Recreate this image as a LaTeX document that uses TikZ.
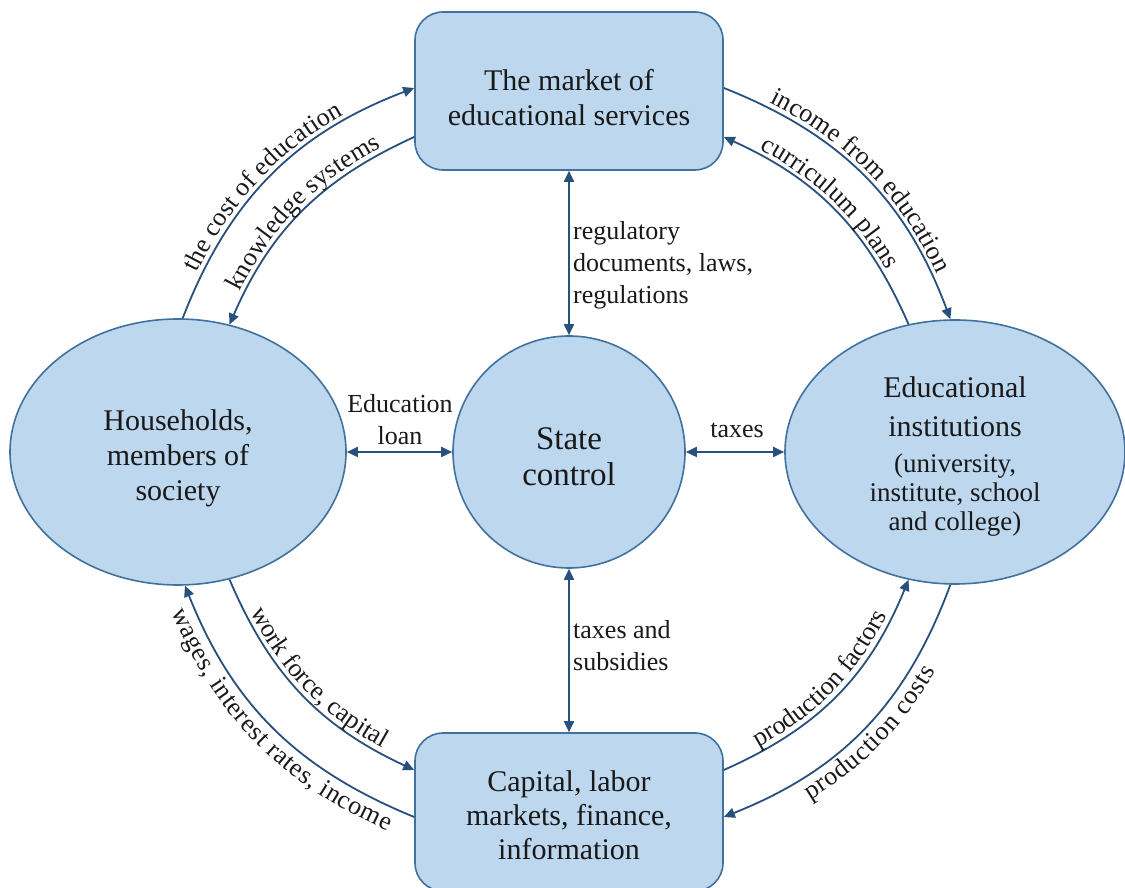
\documentclass[tikz,border=0pt]{standalone}
\usepackage{fontspec}
\setmainfont{Liberation Serif}
\usetikzlibrary{shapes.geometric,arrows.meta,decorations.text}
\definecolor{boxfill}{RGB}{189,215,238}
\definecolor{boxline}{RGB}{65,113,156}
\definecolor{arrowc}{RGB}{40,80,125}
\definecolor{txt}{RGB}{25,25,25}
\newcommand\myfs[2]{\fontsize{#1}{#2}\selectfont}
\newcommand\curvfont{\fontsize{26}{32}\selectfont}
\begin{document}
\begin{tikzpicture}[x=1pt,y=1pt,
  blockbox/.style={draw=boxline, fill=boxfill, line width=1.6pt, rounded corners=28pt,
    minimum width=308pt, minimum height=158pt, inner sep=0pt, align=center,
    text=txt, font=\myfs{30}{35}},
  ellnode/.style={ellipse, draw=boxline, fill=boxfill, line width=1.6pt, inner sep=0pt,
    align=center, text=txt},
  conn/.style={draw=arrowc, line width=1.8pt, -{Triangle[length=11pt,width=10pt]}},
  dconn/.style={draw=arrowc, line width=1.8pt,
    {Triangle[length=11pt,width=10pt]}-{Triangle[length=11pt,width=10pt]}},
  lbl/.style={font=\myfs{26}{32}, inner sep=0pt, text=txt},
  curvlbl/.style={decorate, decoration={text along path, text align=center,
    raise=5pt, text color=txt, text={|\curvfont|#1}}},
  curvlblout/.style={decorate, decoration={text along path, text align=center,
    raise=-23pt, text color=txt, text={|\curvfont|#1}}}
]
\useasboundingbox (0,0) rectangle (1125,888);

% nodes
\node[blockbox] (mkt) at (569,797) {\rule{0pt}{35pt}The market of\\educational services};
\node[blockbox, font=\myfs{30}{34}] (cap) at (569,76) {\rule{0pt}{27pt}Capital, labor\\markets, finance,\\information};
\node[ellnode, minimum width=336pt, minimum height=266pt, font=\myfs{30}{35}] (hh) at (178,436)
  {\rule{0pt}{33pt}Households,\\members of\\society};
\node[circle, draw=boxline, fill=boxfill, line width=1.6pt, minimum size=232pt, inner sep=0pt,
  align=center, text=txt, font=\myfs{33}{36}] (sc) at (569,436) {\rule{0pt}{31pt}State\\control};
\node[ellnode, minimum width=340pt, minimum height=264pt, font=\myfs{30}{36}] (ei) at (955,436)
  {\rule{0pt}{29pt}Educational\\[3pt]institutions\\\myfs{27}{29}(university,\\[-7pt]\myfs{27}{29}institute, school\\[-7pt]\myfs{27}{29}and college)};

% straight connectors
\draw[dconn] (mkt.south) -- (sc.north);
\draw[dconn] (sc.south) -- (cap.north);
\draw[dconn] (hh.east) -- (sc.west);
\draw[dconn] (sc.east) -- (ei.west);

% straight labels
\node[lbl, anchor=west, align=left] (lreg) at (573,623) {regulatory\\documents, laws,\\regulations};
\node[lbl, align=center] (lloan) at (400,468) {Education\\loan};
\node[lbl] (ltax) at (737,458) {taxes};
\node[lbl, anchor=west, align=left] (lsub) at (573,242) {taxes and\\subsidies};

% curved connectors: top left
\draw[conn] (hh.88) to[bend left=24] ([yshift=3pt]mkt.west);
\path[curvlbl={the cost of education}, decoration={text align={center, right indent=28pt}}]
  (hh.88) to[bend left=24] ([yshift=3pt]mkt.west);
\draw[conn] ([yshift=-46pt]mkt.west) to[bend right=21] (hh.68);
\path[curvlbl={knowledge systems}] (hh.68) to[bend left=21] ([yshift=-46pt]mkt.west);

% top right
\draw[conn] ([yshift=3pt]mkt.east) to[bend left=24] (ei.92);
\path[curvlbl={income from education}] ([yshift=3pt]mkt.east) to[bend left=24] (ei.92);
\draw[conn] (ei.110) to[bend right=21] ([yshift=-46pt]mkt.east);
\path[curvlbl={curriculum plans}, decoration={text align={center, right indent=20pt}}]
  ([yshift=-46pt]mkt.east) to[bend left=21] (ei.110);

% bottom left
\draw[conn] (hh.-68) to[bend right=21] ([yshift=42pt]cap.west);
\path[curvlbl={work force, capital}] (hh.-68) to[bend right=21] ([yshift=42pt]cap.west);
\draw[conn] ([yshift=-5pt]cap.west) to[bend left=23] (hh.-87);
\path[curvlblout={wages, interest rates, income}] (hh.-87) to[bend right=23] ([yshift=-5pt]cap.west);

% bottom right
\draw[conn] ([yshift=42pt]cap.east) to[bend right=22] (ei.-110);
\path[curvlbl={production factors}] ([yshift=42pt]cap.east) to[bend right=22] (ei.-110);
\draw[conn] (ei.-92) to[bend left=24] ([yshift=-5pt]cap.east);
\path[curvlblout={production costs}] ([yshift=-5pt]cap.east) to[bend right=24] (ei.-92);
\end{tikzpicture}
\end{document}
